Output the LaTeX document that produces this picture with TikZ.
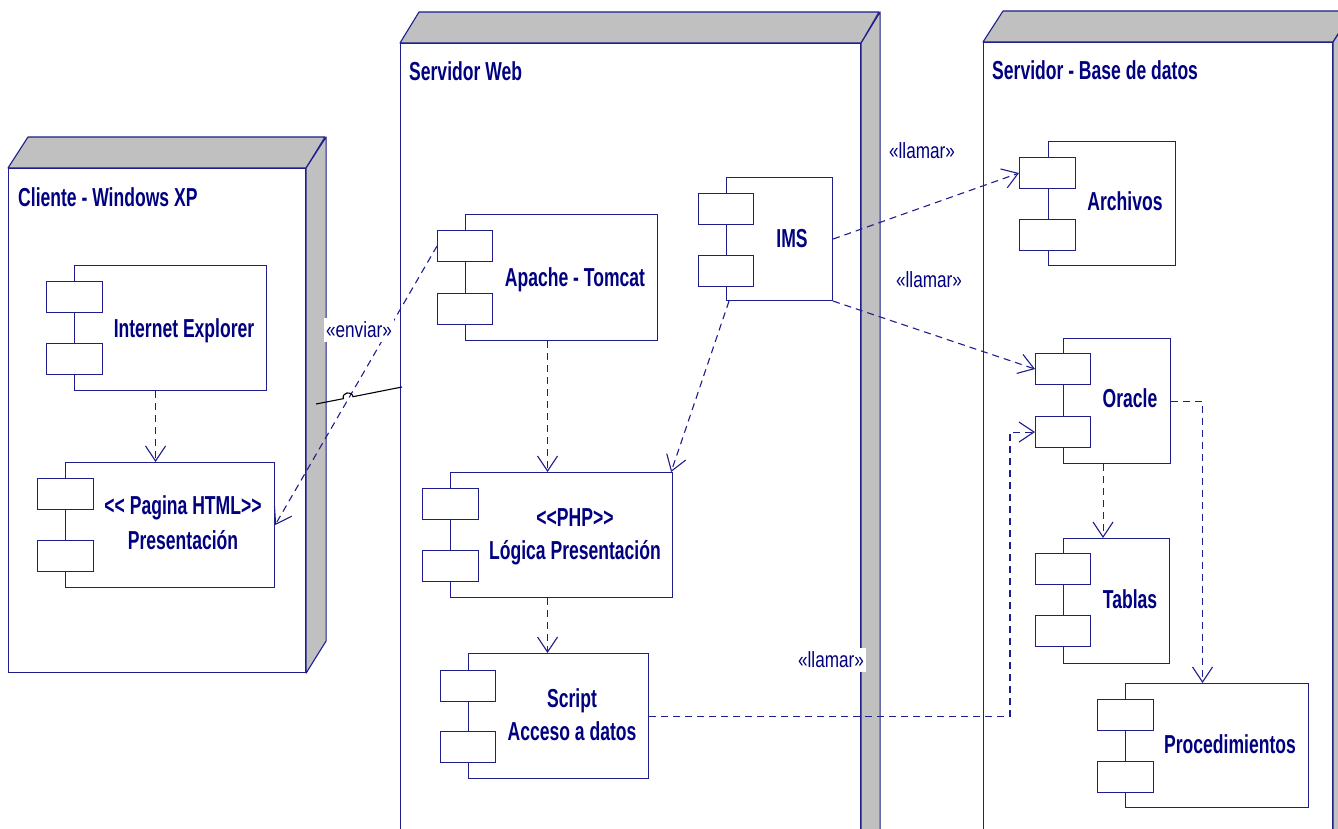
\documentclass[tikz,border=0pt]{standalone}
\usepackage{fontspec}
\setmainfont{Liberation Sans}
\newfontfamily\bfn{Liberation Sans}[FakeStretch=0.675]
\newfontfamily\rgn{Liberation Sans}[FakeStretch=0.78]
\usetikzlibrary{arrows.meta}
\definecolor{navy}{RGB}{0,0,128}
\definecolor{edge}{RGB}{30,30,140}
\definecolor{side}{RGB}{192,192,192}
\begin{document}
\begin{tikzpicture}[x=1pt,y=-1pt,
  box/.style={draw=edge,line width=1.1pt,fill=white,anchor=north west,inner sep=0pt},
  face/.style={draw=edge,line width=1.1pt,fill=side,line join=round},
  comp/.style={draw=edge,line width=1.1pt,fill=white,anchor=north west,inner sep=0pt},
  port/.style={draw=edge,line width=1.1pt,fill=white,anchor=north west,inner sep=0pt,minimum width=56pt,minimum height=31pt},
  ctext/.style={font=\bfn\bfseries\fontsize{26}{30}\selectfont,text=navy,anchor=base,inner sep=0pt},
  title/.style={font=\bfn\bfseries\fontsize{26}{30}\selectfont,text=navy,anchor=base west,inner sep=0pt},
  lbl/.style={font=\rgn\fontsize{22}{26}\selectfont,text=navy,inner sep=1pt},
  dep/.style={draw=edge,line width=1.1pt,dash pattern=on 7pt off 5pt,-{Straight Barb[length=15pt,width=20pt]}},
  link/.style={draw=black,line width=1.1pt}]
\useasboundingbox (0,0) rectangle (1338,829);
\clip (0,0) rectangle (1338,829);

% ---------------- deployment nodes ----------------
\node[box,minimum width=297pt,minimum height=504pt] (cliente) at (8,168) {};
\draw[face] (cliente.north west) -- ++(20,-31) -- ++(297,0) -- (cliente.north east) -- cycle;
\draw[face] (cliente.north east) -- ++(20,-31) -- ++(0,504) -- (cliente.south east) -- cycle;
\node[title] (clientet) at (18,207) {Cliente - Windows XP};

\node[box,minimum width=460pt,minimum height=820pt] (web) at (400,43) {};
\draw[face] (web.north west) -- ++(19,-31) -- ++(460,0) -- (web.north east) -- cycle;
\draw[face] (web.north east) -- ++(19,-31) -- ++(0,820) -- (web.south east) -- cycle;
\node[title] (webt) at (409,81) {Servidor Web};

\node[box,minimum width=349pt,minimum height=820pt] (bd) at (983,42) {};
\draw[face] (bd.north west) -- ++(20,-31) -- ++(349,0) -- (bd.north east) -- cycle;
\draw[face] (bd.north east) -- ++(20,-31) -- ++(0,820) -- (bd.south east) -- cycle;
\node[title] (bdt) at (992,80) {Servidor - Base de datos};

% ---------------- components ----------------
% Internet Explorer
\node[comp,minimum width=192pt,minimum height=125pt] (ie) at (74,265) {};
\node[port] (ie1) at (46,281) {};
\node[port] (ie2) at (46,343) {};
\node[ctext] (iet) at (184,337) {Internet Explorer};

% Pagina HTML
\node[comp,minimum width=209pt,minimum height=125pt] (html) at (65,462) {};
\node[port] (html1) at (37,478) {};
\node[port] (html2) at (37,540) {};
\node[ctext] (htmlt1) at (183,514) {<{}< Pagina HTML>{}>};
\node[ctext] (htmlt2) at (183,549) {Presentación};

% Apache - Tomcat
\node[comp,minimum width=192pt,minimum height=126pt] (apache) at (465,214) {};
\node[port,minimum width=55pt] (apache1) at (437,230) {};
\node[port,minimum width=55pt] (apache2) at (437,293) {};
\node[ctext] (apachet) at (575,286) {Apache - Tomcat};

% IMS
\node[comp,minimum width=106pt,minimum height=123pt] (ims) at (726,177) {};
\node[port,minimum width=55pt] (ims1) at (698,193) {};
\node[port,minimum width=55pt] (ims2) at (698,255) {};
\node[ctext] (imst) at (792,247) {IMS};

% PHP
\node[comp,minimum width=222pt,minimum height=125pt] (php) at (450,472) {};
\node[port] (php1) at (422,488) {};
\node[port] (php2) at (422,550) {};
\node[ctext] (phpt1) at (575,526) {<{}<PHP>{}>};
\node[ctext] (phpt2) at (575,559) {Lógica Presentación};

% Script
\node[comp,minimum width=180pt,minimum height=125pt] (script) at (468,653) {};
\node[port,minimum width=55pt] (script1) at (440,670) {};
\node[port,minimum width=55pt] (script2) at (440,731) {};
\node[ctext] (scriptt1) at (572,707) {Script};
\node[ctext] (scriptt2) at (572,740) {Acceso a datos};

% Archivos
\node[comp,minimum width=127pt,minimum height=124pt] (arch) at (1048,141) {};
\node[port] (arch1) at (1019,157) {};
\node[port] (arch2) at (1019,219) {};
\node[ctext] (archt) at (1125,211) {Archivos};

% Oracle
\node[comp,minimum width=107pt,minimum height=125pt] (oracle) at (1063,338) {};
\node[port,minimum width=55pt] (ora1) at (1035,353) {};
\node[port,minimum width=55pt] (ora2) at (1035,416) {};
\node[ctext] (oraclet) at (1130,407) {Oracle};

% Tablas
\node[comp,minimum width=106pt,minimum height=125pt] (tablas) at (1063,538) {};
\node[port,minimum width=55pt] (tab1) at (1035,553) {};
\node[port,minimum width=55pt] (tab2) at (1035,615) {};
\node[ctext] (tablast) at (1130,608) {Tablas};

% Procedimientos
\node[comp,minimum width=183pt,minimum height=124pt] (proc) at (1125,683) {};
\node[port] (proc1) at (1097,699) {};
\node[port] (proc2) at (1097,761) {};
\node[ctext] (proct) at (1230,753) {Procedimientos};

% ---------------- connectors ----------------
\draw[dep] ([xshift=-15pt]ie.south) -- ([xshift=-15pt]ie.south |- html.north);
\draw[dep] ([xshift=-14pt]apache.south) -- ([xshift=-14pt]apache.south |- php.north);
\draw[dep] ([xshift=3pt]ims.south west) -- ([xshift=-2pt]php.north east);
\draw[dep] ([xshift=-14pt]php.south) -- ([xshift=-14pt]php.south |- script.north);
\draw[dep] (ims.east) -- (arch1.west);
\draw[dep] (ims.south east) -- (ora1.west);
\draw[dep] (script.east) -| ([xshift=-25pt]ora2.west) -- (ora2.west);
\draw[dep] (oracle.east) -| ([xshift=-14.5pt]proc.north);
\draw[dep] ([xshift=-14pt]oracle.south) -- ([xshift=-14pt]oracle.south |- tablas.north);
\draw[dep] (apache1.west) -- (html.east);

% communication link with a hop over the dashed line
\coordinate (linkA) at (316,404);
\coordinate (linkB) at (402,387);
\draw[link] (linkA) -- (343.2,398.7) .. controls (341.9,392.3) and (351.7,390.3) .. (353.0,396.7) -- (linkB);

% ---------------- labels ----------------
\node[lbl,fill=white,inner xsep=2pt,inner ysep=4pt] (enviar) at (359,330) {«enviar»};
\node[lbl] (llamar1) at (922,151) {«llamar»};
\node[lbl] (llamar2) at (929,280) {«llamar»};
\node[lbl,fill=white,inner xsep=2pt,inner ysep=4pt] (llamar3) at (831,660) {«llamar»};
\end{tikzpicture}
\end{document}
